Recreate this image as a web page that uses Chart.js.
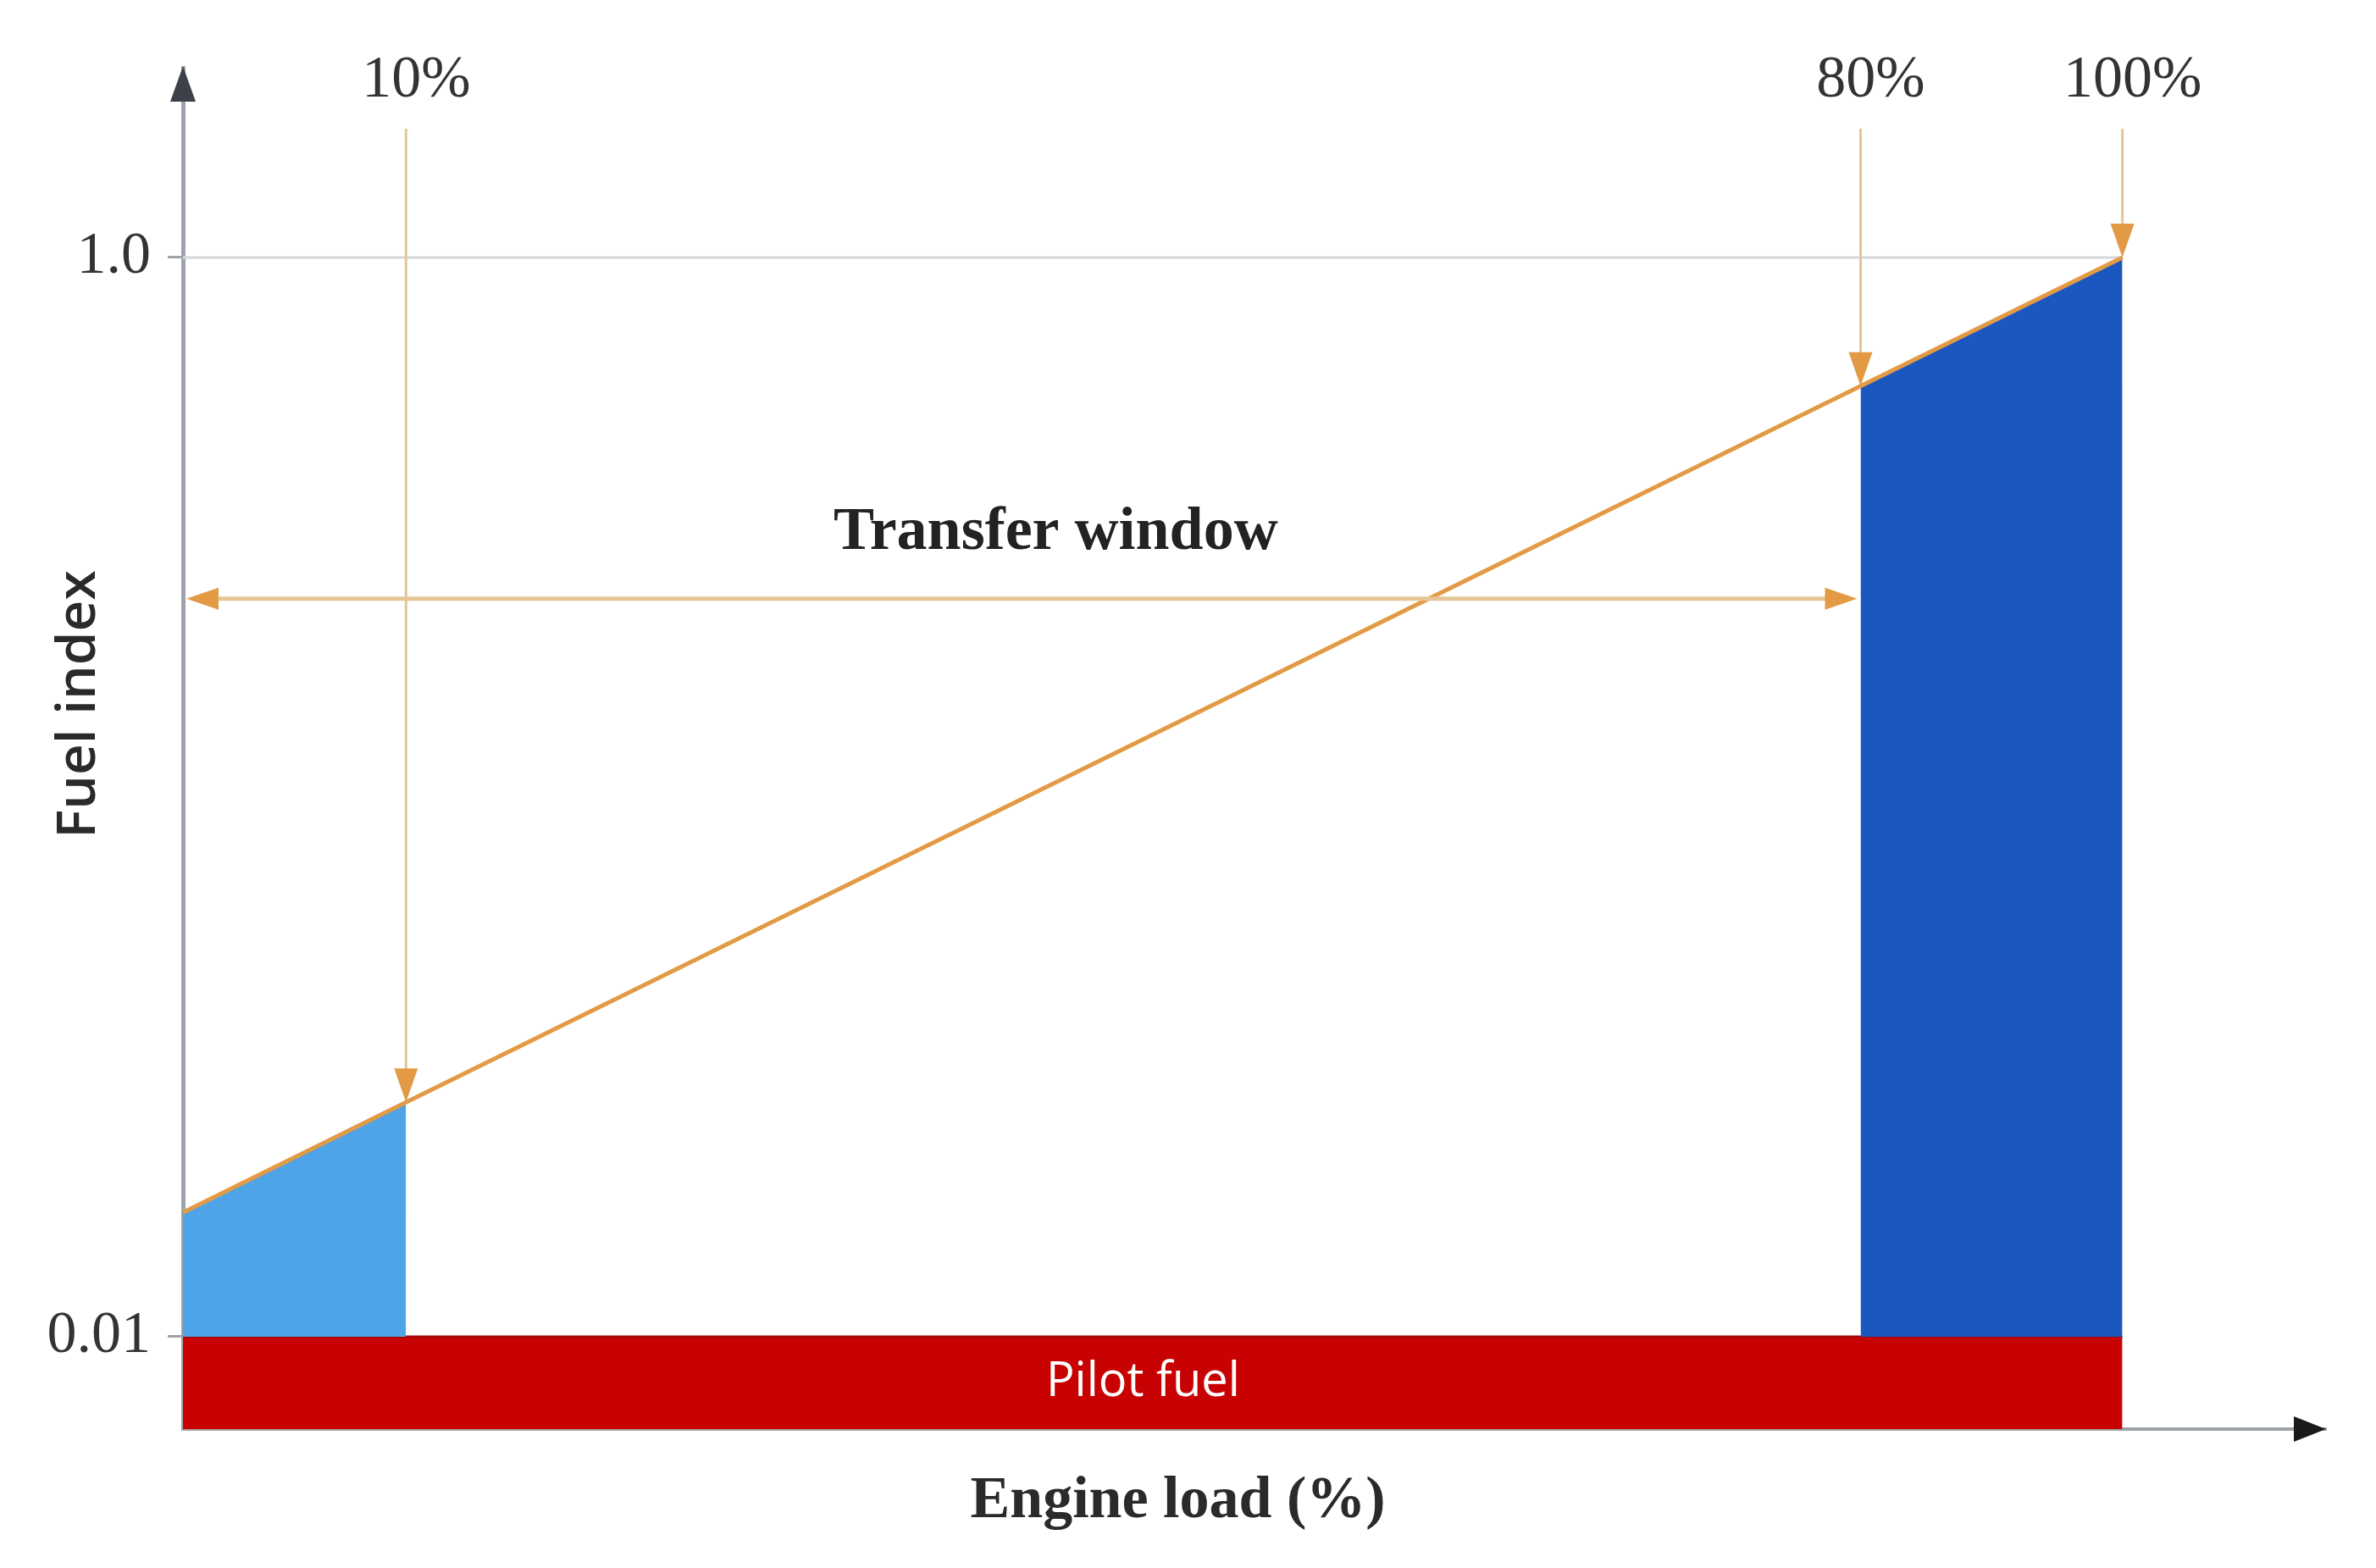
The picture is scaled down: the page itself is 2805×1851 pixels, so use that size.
<!DOCTYPE html>
<html>
<head>
<meta charset="utf-8">
<script src="https://cdn.jsdelivr.net/npm/chart.js@4.4.1/dist/chart.umd.min.js"></script>
<style>
  html, body { margin: 0; padding: 0; background: #ffffff; }
  #wrap { width: 2805px; height: 1851px; }
</style>
</head>
<body>
<div id="wrap"><canvas id="fuelChart"></canvas></div>

<script>

// schematic load axis positions (the picture is not to scale) and fuel index along the line
var loadPos = [0, 11.5, 86.5, 100];
var fuelIdx = [0.124, 0.225, 0.882, 1.0];
var markerText = ['10%', '80%', '100%'];
var markerIdx = [1, 2, 3];
var yTicks = [0.01, 1.0];
var pilotLevel = 0.01;
var transferText = 'Transfer window';
var pilotText = 'Pilot fuel';
var xTitle = 'Engine load (%)';
var yTitle = 'Fuel index';

var ORANGE = '#e39a45';
var ORANGE_LIGHT = '#e6c596';

function pts(from, to) {
  var out = [];
  for (var i = from; i <= to; i++) out.push({ x: loadPos[i], y: fuelIdx[i] });
  return out;
}

function arrowHead(ctx, x, y, dir, w, h, color) {
  ctx.save();
  ctx.fillStyle = color;
  ctx.beginPath();
  if (dir === 'down') { ctx.moveTo(x, y); ctx.lineTo(x - w / 2, y - h); ctx.lineTo(x + w / 2, y - h); }
  if (dir === 'up') { ctx.moveTo(x, y); ctx.lineTo(x - w / 2, y + h); ctx.lineTo(x + w / 2, y + h); }
  if (dir === 'left') { ctx.moveTo(x, y); ctx.lineTo(x + h, y - w / 2); ctx.lineTo(x + h, y + w / 2); }
  if (dir === 'right') { ctx.moveTo(x, y); ctx.lineTo(x - h, y - w / 2); ctx.lineTo(x - h, y + w / 2); }
  ctx.closePath();
  ctx.fill();
  ctx.restore();
}

var annotations = {
  id: 'annotations',
  afterDatasetsDraw: function(chart) {
    var ctx = chart.ctx;
    var xs = chart.scales.x, ys = chart.scales.y;
    var area = chart.chartArea;

    // axis arrows
    arrowHead(ctx, area.left, area.top - 2, 'up', 30, 42, '#3b4049');
    ctx.save();
    ctx.strokeStyle = '#9ea3ab';
    ctx.lineWidth = 4;
    ctx.beginPath();
    ctx.moveTo(xs.getPixelForValue(loadPos[3]), area.bottom);
    ctx.lineTo(area.right - 30, area.bottom);
    ctx.stroke();
    ctx.restore();
    arrowHead(ctx, area.right, area.bottom, 'right', 30, 38, '#1a1a1a');

    // marker arrows from the labels down to the line
    markerIdx.forEach(function(idx, k) {
      var px = xs.getPixelForValue(loadPos[idx]);
      var yTop = ys.getPixelForValue(1.118);
      var yEnd = ys.getPixelForValue(fuelIdx[idx]);
      ctx.save();
      ctx.strokeStyle = ORANGE_LIGHT;
      ctx.lineWidth = 3;
      ctx.beginPath();
      ctx.moveTo(px, yTop);
      ctx.lineTo(px, yEnd - 30);
      ctx.stroke();
      ctx.restore();
      arrowHead(ctx, px, yEnd, 'down', 28, 40, ORANGE);

      ctx.save();
      ctx.fillStyle = '#333333';
      ctx.font = '70px "Liberation Serif"';
      ctx.textAlign = 'center';
      ctx.textBaseline = 'middle';
      ctx.fillText(markerText[k], px + 12, ys.getPixelForValue(1.162));
      ctx.restore();
    });

    // transfer window double arrow
    var tw0 = xs.getPixelForValue(loadPos[0]);
    var tw1 = xs.getPixelForValue(loadPos[2]);
    var twY = ys.getPixelForValue(0.687);
    ctx.save();
    ctx.strokeStyle = ORANGE_LIGHT;
    ctx.lineWidth = 5;
    ctx.beginPath();
    ctx.moveTo(tw0 + 30, twY);
    ctx.lineTo(tw1 - 30, twY);
    ctx.stroke();
    ctx.restore();
    arrowHead(ctx, tw0 + 4, twY, 'left', 26, 38, ORANGE);
    arrowHead(ctx, tw1 - 4, twY, 'right', 26, 38, ORANGE);

    ctx.save();
    ctx.fillStyle = '#222222';
    ctx.font = 'bold 72px "Liberation Serif"';
    ctx.textAlign = 'center';
    ctx.textBaseline = 'middle';
    ctx.fillText(transferText, xs.getPixelForValue(45), ys.getPixelForValue(0.747));

    // pilot fuel label inside the red band
    ctx.fillStyle = '#ffffff';
    ctx.font = '56px "Open Sans"';
    ctx.fillText(pilotText, xs.getPixelForValue(49.5), (ys.getPixelForValue(pilotLevel) + area.bottom) / 2);

    // axis titles
    ctx.fillStyle = '#2a2a2a';
    ctx.font = 'bold 70px "Liberation Serif"';
    ctx.fillText(xTitle, xs.getPixelForValue(51.3), area.bottom + 86);

    ctx.translate(94, ys.getPixelForValue(0.59));
    ctx.rotate(-Math.PI / 2);
    ctx.font = '600 64px "Open Sans"';
    ctx.fillText(yTitle, 0, 0);
    ctx.restore();
  }
};

Chart.defaults.font.family = '"Liberation Serif", serif';

new Chart(document.getElementById('fuelChart'), {
  type: 'line',
  data: {
    datasets: [
      {
        // orange fuel index line
        data: pts(0, 3),
        borderColor: ORANGE,
        borderWidth: 5,
        pointRadius: 0,
        fill: false,
        order: 0
      },
      {
        // low load area (light blue)
        data: pts(0, 1),
        borderWidth: 0,
        backgroundColor: '#4fa3e7',
        pointRadius: 0,
        fill: { value: pilotLevel },
        order: 1
      },
      {
        // high load area (dark blue)
        data: pts(2, 3),
        borderWidth: 0,
        backgroundColor: '#1c57bf',
        pointRadius: 0,
        fill: { value: pilotLevel },
        order: 2
      },
      {
        // pilot fuel band
        data: [{ x: loadPos[0], y: pilotLevel }, { x: loadPos[3], y: pilotLevel }],
        borderColor: '#a80808',
        borderWidth: 3,
        backgroundColor: '#c80202',
        pointRadius: 0,
        fill: 'start',
        order: 3
      },
      {
        // 1.0 guide line
        data: [{ x: loadPos[0], y: yTicks[1] }, { x: loadPos[3], y: yTicks[1] }],
        borderColor: '#d4d7dc',
        borderWidth: 3,
        pointRadius: 0,
        fill: false,
        order: 5
      }
    ]
  },
  options: {
    responsive: true,
    maintainAspectRatio: false,
    animation: false,
    layout: { padding: { left: 0, right: 59, top: 80, bottom: 0 } },
    plugins: {
      legend: { display: false },
      tooltip: { enabled: false }
    },
    scales: {
      x: {
        type: 'linear',
        min: 0,
        max: 110.5,
        grid: { display: false },
        border: { display: true, color: '#9ea3ab', width: 4 },
        ticks: { display: false },
        afterFit: function(scale) { scale.height = 164; }
      },
      y: {
        type: 'linear',
        min: -0.0747,
        max: 1.174,
        afterBuildTicks: function(scale) {
          scale.ticks = yTicks.map(function(v) { return { value: v }; });
        },
        grid: { drawOnChartArea: false, drawTicks: true, tickLength: 18, color: '#9ea3ab', lineWidth: 3 },
        border: { display: true, color: '#9ea3ab', width: 5 },
        ticks: {
          padding: 20,
          color: '#333333',
          font: { size: 70 },
          callback: function(v) { return v < 1 ? v.toFixed(2) : v.toFixed(1); }
        },
        afterFit: function(scale) { scale.width = 216; }
      }
    }
  },
  plugins: [annotations]
});

</script>
</body>
</html>
